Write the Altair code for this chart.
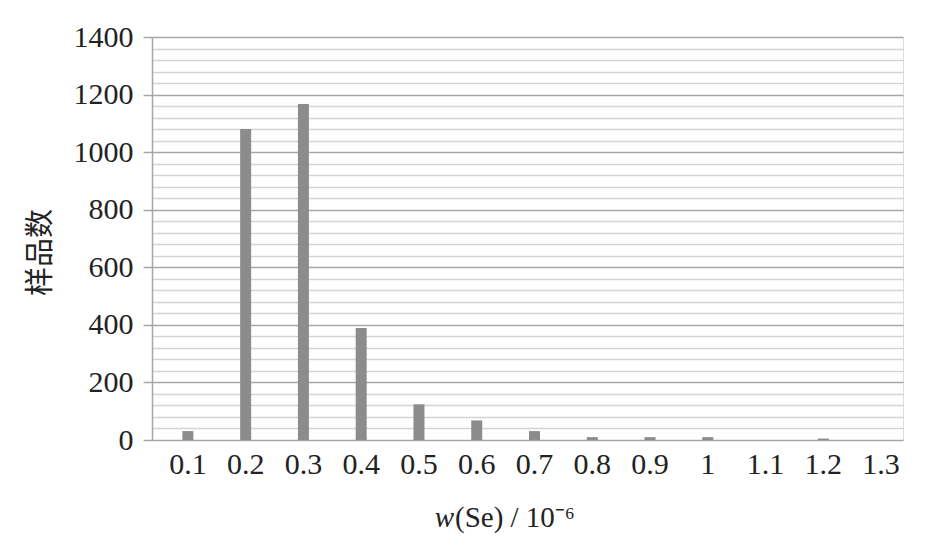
import altair as alt
import pandas as pd

categories = ["0.1", "0.2", "0.3", "0.4", "0.5", "0.6", "0.7", "0.8", "0.9", "1", "1.1", "1.2", "1.3"]
counts = [31, 1080, 1167, 389, 124, 68, 31, 10, 10, 10, 0, 5, 0]
x_title_var = "w"
x_title_rest = "(Se) / 10⁻⁶"

df = pd.DataFrame({"w": categories, "n": counts})

bars = alt.Chart(df).mark_bar(color="#8c8c8c", width=11, xOffset=7).encode(
    x=alt.X("w:N", sort=categories,
            axis=alt.Axis(title=None, labelAngle=0, ticks=False, domain=False, grid=False,
                          labelOffset=7,
                          labelFont="Liberation Serif", labelFontSize=30, labelColor="#222",
                          labelPadding=9)),
    y=alt.Y("n:Q", scale=alt.Scale(domain=[0, 1400], nice=False),
            axis=alt.Axis(title="样品数", values=list(range(0, 1401, 40)),
                          labelExpr="datum.value % 200 === 0 ? datum.label : ''",
                          format="d",
                          gridColor={"expr": "datum.value % 200 === 0 ? '#a6a6a6' : '#d4d4d4'"},
                          gridWidth=1.5,
                          tickColor={"expr": "datum.value % 200 === 0 ? '#a6a6a6' : 'transparent'"},
                          tickSize=9, tickWidth=1.5,
                          domainColor="#a6a6a6", domainWidth=1.5,
                          labelFont="Liberation Serif", labelFontSize=30, labelColor="#222",
                          labelPadding=10,
                          titleFont="Noto Sans CJK SC", titleFontSize=29, titleFontWeight="normal",
                          titleColor="#222", titlePadding=18, titleY=215)),
)

title_var = alt.Chart(pd.DataFrame({"t": [x_title_var]})).mark_text(
    font="Liberation Serif", fontSize=29, fontStyle="italic", align="right",
    baseline="middle", color="#222"
).encode(text="t:N", x=alt.value(302), y=alt.value(481))

title_rest = alt.Chart(pd.DataFrame({"t": [x_title_rest]})).mark_text(
    font="Liberation Serif", fontSize=29, align="left",
    baseline="middle", color="#222"
).encode(text="t:N", x=alt.value(303), y=alt.value(481))

chart = alt.layer(bars, title_var, title_rest).properties(
    width=751, height=403,
    autosize=alt.AutoSizeParams(type="none"),
    padding={"left": 144, "top": 29, "right": 30, "bottom": 100},
).configure_view(stroke=None).configure(background="white")

chart.save("out.html", embed_options={"renderer": "svg", "actions": False})
